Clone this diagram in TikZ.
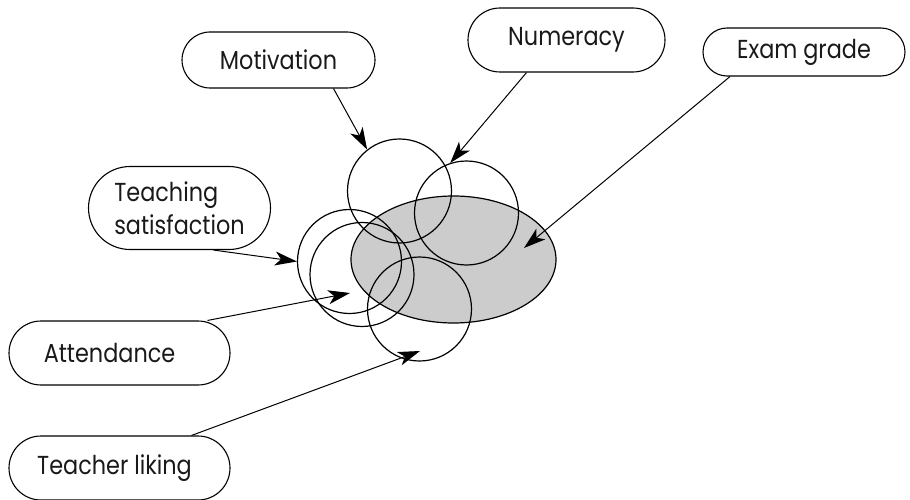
\documentclass[tikz,border=0pt]{standalone}
\usepackage{fontspec}
\setmainfont{Poppins}[FakeStretch=0.86]
\usetikzlibrary{shapes.misc,shapes.geometric,arrows.meta,calc}
\begin{document}
\begin{tikzpicture}[x=1pt,y=-1pt,
  label box/.style={rounded rectangle, draw=black, line width=1.1pt, inner sep=0pt,
    font=\fontsize{26}{33}\selectfont, text=black!90},
  overlap/.style={circle, draw=black, line width=1.2pt, minimum size=104pt, inner sep=0pt},
  link/.style={line width=1pt, -{Stealth[length=22pt,width=14pt,inset=6pt]}}]
\useasboundingbox (0,0) rectangle (910,500);

% outcome variable
\node[ellipse, fill=black!20, draw=black, line width=1.2pt, minimum width=205pt,
      minimum height=127pt, inner sep=0pt] (exam) at (453.5,259.5) {};

% predictor variables
\node[overlap] (cmot) at (399.5,191) {};
\node[overlap] (cnum) at (466.5,213) {};
\node[overlap] (csat) at (349.5,261.5) {};
\node[overlap] (catt) at (362,274.5) {};
\node[overlap] (clik) at (419.5,309) {};

% labels
\node[label box, minimum width=193pt, minimum height=56pt] (bmot) at (278.5,60) {Motivation};
\node[label box, minimum width=197pt, minimum height=64pt] (bnum) at (566.5,40) {Numeracy};
\node[label box, minimum width=202pt, minimum height=48pt] (bexam) at (804,52) {Exam grade};
\node[label box, minimum width=182pt, minimum height=83pt, align=left] (bsat) at (179.5,208) {Teaching\\satisfaction};
\node[label box, minimum width=221pt, minimum height=64pt] (batt) at (119.5,353) {Attendance\hspace*{20pt}};
\node[label box, minimum width=221pt, minimum height=64pt] (blik) at (119.5,468) {Teacher liking\hspace*{10pt}};

% arrow targets
\coordinate (tmot) at (cmot.128);
\coordinate (tnum) at (cnum.108);
\coordinate (texam) at (524,248);
\coordinate (tsat) at (csat.180);
\coordinate (tatt) at (350,293);
\coordinate (tlik) at (420,351);

\draw[link] ($(bmot.south)+(55,0)$) -- (tmot);
\draw[link] ($(bnum.south)+(-40,0)$) -- (tnum);
\draw[link] ($(bexam.south)+(-74,0)$) -- (texam);
\draw[link] ($(bsat.south)+(34,0)$) -- (tsat);
\draw[link] ($(batt.north)+(88,0)$) -- (tatt);
\draw[link] ($(blik.north)+(72,0)$) -- (tlik);
\end{tikzpicture}
\end{document}
